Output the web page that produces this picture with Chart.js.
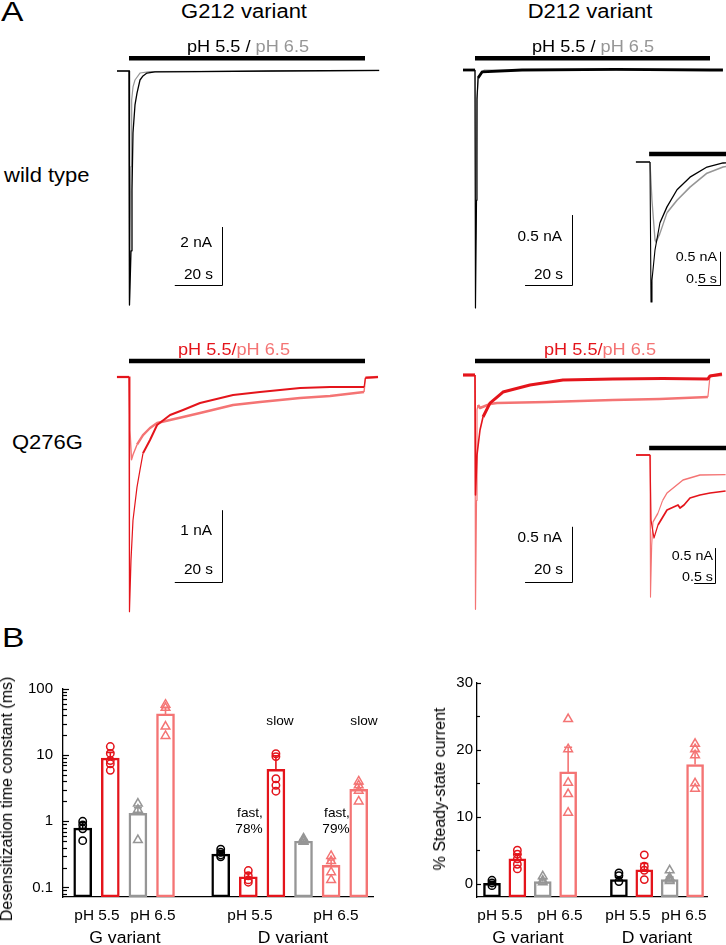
<!DOCTYPE html>
<html>
<head>
<meta charset="utf-8">
<title>Desensitization of G212 / D212 variants</title>
<script src="https://cdn.jsdelivr.net/npm/chart.js@4.4.1/dist/chart.umd.min.js"></script>
<style>
  html, body { margin: 0; background: #fff; }
  #fig { position: relative; width: 726px; height: 945px; overflow: hidden;
         font-family: "Liberation Sans", Arial, sans-serif; color: #000; }
  #fig canvas { position: absolute; }
  .t { position: absolute; white-space: nowrap; line-height: 1; }
</style>
</head>
<body>
<div id="fig"></div>
<script>
// colours
const BLACK = '#000000', GRAY = '#969696', RED = '#e4141b', PINK = '#f47474';

// ---- panel A: current traces, pairs of [time (s), current (nA)] ----
// wild type, G212
const wtG_55 = [[-5.1,0],[0,0],[0.2,-8.07],[0.85,-6.2],[1.27,-4.1],[1.69,-2.14],[2.54,-1.17],[3.39,-0.76],
  [4.66,-0.31],[5.93,-0.17],[7.6,-0.07],[11,-0.03],[30,-0.02],[60,0],[106,0.02]];
const wtG_65 = [[-5.1,0],[0,0],[0.2,-7.9],[0.5,-5.5],[0.85,-3.3],[1.13,-1.0],[1.7,-0.55],[2.54,-0.31],
  [4.66,-0.07],[8.9,-0.02],[106,0.01]];
// wild type, D212
const wtD_55 = [[-5.1,0],[0,0],[0.2,-1.7],[0.64,-0.93],[0.85,-0.21],[1.28,-0.057],
  [3,-0.014],[20,0],[60,0.005],[100,0],[105.5,0]];
const wtD_65 = [[-5.1,0],[0,0],[0.3,-1.21],[0.85,-0.2],[1.5,-0.05],[4,0],[105.5,0]];
// wild type, D212, fast time base (inset)
const wtDi_55 = [[-0.32,0],[0,0],[0.023,-2.12],[0.045,-1.79],[0.114,-1.33],[0.227,-0.92],[0.386,-0.68],
  [0.614,-0.42],[0.909,-0.23],[1.295,-0.076],[1.66,-0.015],[1.8,-0.01]];
const wtDi_65 = [[-0.32,0],[0,0],[0.045,-0.58],[0.114,-1.18],[0.136,-1.21],[0.227,-1.08],[0.386,-0.77],
  [0.614,-0.58],[0.909,-0.38],[1.295,-0.17],[1.66,-0.076],[1.8,-0.06]];
// Q276G, G212
const qG_55 = [[-5.1,0],[0,0],[0.2,-3.26],[0.85,-2.54],[1.69,-1.99],[3.39,-1.53],[4.66,-1.29],[5.93,-1.06],
  [8.9,-0.875],[11.9,-0.667],[17.4,-0.528],[22.9,-0.458],[30.1,-0.361],[44.1,-0.25],[55.5,-0.208],
  [72.5,-0.153],[85.2,-0.139],[99.6,-0.139],[100.2,-0.01],[105.5,0]];
const qG_65 = [[-5.1,0],[0,0],[0.42,-0.74],[1.06,-1.15],[1.69,-1.08],[3.39,-0.94],[5.93,-0.806],
  [8.9,-0.708],[11.9,-0.639],[17.4,-0.597],[22.9,-0.556],[30.1,-0.5],[44.1,-0.389],[55.5,-0.347],
  [72.5,-0.292],[85.2,-0.264],[99.6,-0.208],[100.2,-0.01],[105.5,0]];
// Q276G, D212
const qD_55 = [[-5.1,0],[0,0],[0.21,-1.09],[0.85,-0.727],[2.13,-0.5],[3.4,-0.382],[6.38,-0.255],
  [11.9,-0.155],[23.4,-0.091],[37.4,-0.045],[58.7,-0.036],[80,-0.032],[99.1,-0.036],[100,-0.009],[105.1,0.009]];
const qD_65 = [[-5.1,0],[0,0],[0.21,-2.13],[0.64,-1.14],[0.85,-0.318],[1.28,-0.273],[2.13,-0.3],
  [6.4,-0.264],[9.36,-0.255],[30.6,-0.245],[58.7,-0.227],[78.7,-0.218],[99.1,-0.2],[100,-0.009],[105.1,0]];
// Q276G, D212, fast time base (inset)
const qDi_55 = [[-0.333,0],[0,0],[0.024,-0.93],[0.095,-1.186],[0.19,-1.0],[0.405,-0.786],[0.667,-0.714],
  [0.714,-0.757],[0.81,-0.714],[0.952,-0.614],[1.19,-0.571],[1.43,-0.543],[1.8,-0.514]];
const qDi_65 = [[-0.333,0],[0,0],[0.012,-2.03],[0.04,-1.3],[0.071,-0.957],[0.19,-0.83],[0.3,-0.65],
  [0.405,-0.543],[0.786,-0.357],[1.19,-0.286],[1.8,-0.28]];

// ---- panel B, left: desensitization time constant (ms), log axis ----
const tauPos   = [0, 1, 2, 3, 5, 6, 7, 8, 9, 10];
const tauMean  = [0.79, 9.0, 1.32, 42, 0.32, 0.145, 6.1, 0.5, 0.215, 3.05];
const tauSem   = [0.16, 2.0, 0.28, 10, 0.04, 0.02, 3.7, 0.03, 0.045, 0.55];
const tauPts   = [[1.0, 0.88, 0.77, 0.51], [13.5, 10.6, 8.3, 7.4, 5.9], [1.85, 1.5, 0.52], [58, 52, 27, 19.5],
  [0.38, 0.34, 0.31, 0.29], [0.18, 0.15, 0.13, 0.12], [10.5, 9.5, 4.4, 3.5, 2.85], [0.55, 0.52, 0.5, 0.49],
  [0.3, 0.25, 0.17, 0.13], [4.0, 3.5, 2.9, 2.0]];
const tauColor = [BLACK, RED, GRAY, PINK, BLACK, RED, RED, GRAY, PINK, PINK];
const tauShape = ['circle','circle','triangle','triangle','circle','circle','circle','triangle','triangle','triangle'];
const tauTicks = [0.1, 1, 10, 100];

// ---- panel B, right: % steady-state current ----
const ssPos   = [0, 1, 2, 3, 5, 6, 7, 8];
const ssMean  = [0.05, 3.7, 0.3, 16.7, 0.6, 2.05, 0.6, 17.8];
const ssSem   = [0.3, 0.7, 0.3, 3.7, 0.35, 0.95, 0.4, 2.0];
const ssPts   = [[0.5, 0.1, -0.3], [5.0, 4.4, 3.7, 2.9, 2.2], [1.1, 0.45, 0.2], [24.6, 20.1, 15.1, 13.4, 10.6],
  [1.6, 1.2, 0.3], [4.3, 2.6, 2.0, 0.6], [2.0, 0.9, 0.6, 0.4], [20.9, 20.1, 19.2, 15.0, 14.2]];
const ssColor = [BLACK, RED, GRAY, PINK, BLACK, RED, GRAY, PINK];
const ssShape = ['circle','circle','triangle','triangle','circle','circle','triangle','triangle'];
const ssTicks = [0, 10, 20, 30];

Chart.defaults.font.family = '"Liberation Sans", Arial, sans-serif';
Chart.defaults.color = '#000';
const fig = document.getElementById('fig');

function mkCanvas(b) {
  const cv = document.createElement('canvas');
  cv.width = b.w; cv.height = b.h;
  cv.style.left = b.x + 'px'; cv.style.top = b.y + 'px';
  fig.appendChild(cv);
  return cv;
}

// text helper: parts = string or [[text, colour], ...]; bl = baseline y
function label(parts, x, bl, size, align, sx) {
  align = align || 'left'; sx = sx || 1.1;
  const d = document.createElement('div');
  d.className = 't';
  if (typeof parts === 'string') parts = [[parts, '#000']];
  parts.forEach(([txt, col]) => {
    const s = document.createElement('span');
    s.textContent = txt; s.style.color = col; s.style.whiteSpace = 'pre';
    d.appendChild(s);
  });
  d.style.fontSize = size + 'px';
  d.style.left = x + 'px';
  d.style.top = (bl - 0.8465 * size) + 'px';
  const tx = align === 'center' ? '-50%' : align === 'right' ? '-100%' : '0';
  d.style.transformOrigin = align === 'center' ? '50% 50%' : align === 'right' ? '100% 50%' : '0 50%';
  d.style.transform = 'translateX(' + tx + ') scaleX(' + sx + ')';
  fig.appendChild(d);
}

function vlabel(text, cx, cy, size) {
  const d = document.createElement('div');
  d.className = 't';
  d.textContent = text;
  d.style.fontSize = size + 'px';
  d.style.left = cx + 'px'; d.style.top = cy + 'px';
  d.style.transform = 'translate(-50%,-50%) rotate(-90deg)';
  fig.appendChild(d);
}

// stimulus bar + L-shaped scale bar, placed with the chart's own scales
function decor(o, top) {
  return {
    id: 'decor',
    afterDatasetsDraw(chart) {
      const { ctx, scales: { x, y } } = chart;
      ctx.save();
      ctx.strokeStyle = '#000';
      ctx.lineCap = 'butt';
      ctx.lineWidth = 4.4;
      const sy = o.stimY - top;
      ctx.beginPath();
      ctx.moveTo(x.getPixelForValue(o.stim[0]), sy);
      ctx.lineTo(x.getPixelForValue(o.stim[1]), sy);
      ctx.stroke();
      const b = o.bar;
      const cx = Math.round(x.getPixelForValue(b.t)) + 0.5, cy = Math.round(y.getPixelForValue(b.i)) + 0.5;
      ctx.lineWidth = 1;
      ctx.beginPath();
      ctx.moveTo(x.getPixelForValue(b.t - b.dt), cy);
      ctx.lineTo(cx, cy);
      ctx.lineTo(cx, y.getPixelForValue(b.i + b.di));
      ctx.stroke();
      ctx.restore();
    }
  };
}

// steep parts of a record are drawn thin, the noisy plateaus thicker
function segWidth(thick, thin) {
  return ctx => {
    const dx = Math.abs(ctx.p1.x - ctx.p0.x), dy = Math.abs(ctx.p1.y - ctx.p0.y);
    return dy > 2.5 * dx ? thin : thick;
  };
}

// map: t0 = page x of t=0, sx = px per s, base = page y of 0 nA, sy = px per nA
function traceChart(box, map, sets, deco) {
  const cv = mkCanvas(box);
  const xmin = (box.x - map.t0) / map.sx, xmax = (box.x + box.w - map.t0) / map.sx;
  const ymax = (map.base - box.y) / map.sy, ymin = (map.base - box.y - box.h) / map.sy;
  new Chart(cv, {
    type: 'line',
    data: {
      datasets: sets.map(s => ({
        data: s.data.map(p => ({ x: p[0], y: p[1] })),
        borderColor: s.color, borderWidth: s.w, pointRadius: 0, tension: 0, fill: false,
        borderJoinStyle: 'round', order: s.order || 0,
        segment: { borderWidth: segWidth(s.w, s.thin || s.w) }
      }))
    },
    options: {
      responsive: false, animation: false, events: [],
      layout: { padding: 0 },
      plugins: { legend: { display: false }, tooltip: { enabled: false } },
      scales: {
        x: { type: 'linear', display: false, min: xmin, max: xmax },
        y: { type: 'linear', display: false, min: ymin, max: ymax }
      }
    },
    plugins: [decor(deco, box.y)]
  });
}

function errPlugin(c) {
  return {
    id: 'errs',
    afterDatasetsDraw(chart) {
      const { ctx, scales: { x, y } } = chart;
      ctx.save();
      ctx.lineWidth = 1.6;
      c.pos.forEach((p, i) => {
        const px = x.getPixelForValue(p);
        const y0 = y.getPixelForValue(c.mean[i]), y1 = y.getPixelForValue(c.mean[i] + c.sem[i]);
        ctx.strokeStyle = c.colors[i];
        ctx.beginPath();
        ctx.moveTo(px, y0); ctx.lineTo(px, y1);
        ctx.moveTo(px - 4, y1); ctx.lineTo(px + 4, y1);
        ctx.stroke();
      });
      ctx.restore();
    }
  };
}

function tickPlugin(major, minor) {
  return {
    id: 'inTicks',
    afterDraw(chart) {
      const { ctx, chartArea } = chart, y = chart.scales.y;
      ctx.save();
      ctx.strokeStyle = '#000'; ctx.lineWidth = 1.2;
      y.ticks.forEach(t => {
        const p = Math.round(y.getPixelForValue(t.value)) + 0.5;
        const len = t.label ? major : minor;
        ctx.beginPath(); ctx.moveTo(chartArea.left, p); ctx.lineTo(chartArea.left + len, p); ctx.stroke();
      });
      ctx.restore();
    }
  };
}

function barChart(c) {
  const cv = mkCanvas(c.box);
  const ds = [{
    type: 'bar', data: c.pos.map((p, i) => ({ x: p, y: c.mean[i] })), base: c.base,
    backgroundColor: 'rgba(0,0,0,0)', borderColor: c.colors, borderWidth: 1.8,
    borderSkipped: false, barThickness: c.thick, order: 3
  }];
  c.pts.forEach((vals, i) => ds.push({
    type: 'scatter', data: vals.map(v => ({ x: c.pos[i], y: v })),
    pointStyle: c.shapes[i], pointRadius: c.shapes[i] === 'triangle' ? 5 : 3.7,
    pointBorderColor: c.colors[i], pointBackgroundColor: 'rgba(0,0,0,0)', pointBorderWidth: 1.5,
    showLine: false, order: 1
  }));
  new Chart(cv, {
    type: 'bar',
    data: { datasets: ds },
    options: {
      responsive: false, animation: false, events: [],
      layout: { padding: c.pad },
      plugins: { legend: { display: false }, tooltip: { enabled: false } },
      scales: {
        x: {
          type: 'linear', offset: false, min: c.xr[0], max: c.xr[1],
          afterFit: s => { s.height = c.xh; },
          grid: { display: false, drawTicks: false }, border: { color: '#000', width: 1.3 },
          ticks: { display: false }
        },
        y: c.y
      }
    },
    plugins: [errPlugin(c), tickPlugin(c.tick[0], c.tick[1])]
  });
}

// ---------------- panel A ----------------
traceChart({ x: 110, y: 50, w: 275, h: 262 }, { t0: 129, sx: 2.36, base: 71, sy: 29 },
  [{ data: wtG_65, color: GRAY, w: 1.2, order: 2 }, { data: wtG_55, color: BLACK, w: 1.3, order: 1 }],
  { stim: [0, 100], stimY: 58.3, bar: { t: 39.4, i: -7.38, dt: 20, di: 2 } });

traceChart({ x: 455, y: 50, w: 271, h: 262 }, { t0: 475, sx: 2.35, base: 70, sy: 140 },
  [{ data: wtD_65, color: GRAY, w: 1.2, order: 2 }, { data: wtD_55, color: BLACK, w: 2.8, thin: 1.2, order: 1 }],
  { stim: [0, 100], stimY: 58.3, bar: { t: 41.3, i: -1.536, dt: 20, di: 0.5 } });

traceChart({ x: 630, y: 145, w: 96, h: 165 }, { t0: 650, sx: 44, base: 162, sy: 66 },
  [{ data: wtDi_65, color: GRAY, w: 1.6, thin: 1.3, order: 2 }, { data: wtDi_55, color: BLACK, w: 1.3, thin: 1.1, order: 1 }],
  { stim: [-0.02, 2], stimY: 154, bar: { t: 1.59, i: -1.86, dt: 0.5, di: 0.5 } });

traceChart({ x: 110, y: 350, w: 275, h: 270 }, { t0: 129, sx: 2.36, base: 377, sy: 72 },
  [{ data: qG_65, color: PINK, w: 2.4, thin: 1.4, order: 2 }, { data: qG_55, color: RED, w: 2, thin: 1.2, order: 1 }],
  { stim: [0, 100], stimY: 361, bar: { t: 39.4, i: -2.85, dt: 20, di: 1 } });

traceChart({ x: 455, y: 350, w: 271, h: 270 }, { t0: 475, sx: 2.35, base: 375, sy: 110 },
  [{ data: qD_65, color: PINK, w: 2.6, thin: 1.2, order: 2 }, { data: qD_55, color: RED, w: 3, thin: 1.6, order: 1 }],
  { stim: [0, 100], stimY: 361, bar: { t: 41.3, i: -1.88, dt: 20, di: 0.5 } });

traceChart({ x: 630, y: 440, w: 96, h: 165 }, { t0: 650, sx: 42, base: 455, sy: 70 },
  [{ data: qDi_65, color: PINK, w: 1.4, thin: 1.1, order: 2 }, { data: qDi_55, color: RED, w: 1.7, thin: 1.2, order: 1 }],
  { stim: [-0.02, 2], stimY: 448, bar: { t: 1.55, i: -1.83, dt: 0.5, di: 0.5 } });

label('A', 1, 22, 28, 'left', 1.2);
label('G212 variant', 244, 18, 20, 'center');
label('D212 variant', 590, 18, 20, 'center');
label([['pH 5.5 / ', BLACK], ['pH 6.5', GRAY]], 248, 52, 16.5, 'center');
label([['pH 5.5 / ', BLACK], ['pH 6.5', GRAY]], 593, 52, 16.5, 'center');
label('wild type', 4, 182, 20);
label('Q276G', 12, 449, 20);
label([['pH 5.5/', RED], ['pH 6.5', PINK]], 234, 355, 16.5, 'center');
label([['pH 5.5/', RED], ['pH 6.5', PINK]], 600, 355, 16.5, 'center');

label('2 nA', 212, 247, 14, 'right');
label('20 s', 213, 279, 14, 'right');
label('0.5 nA', 562, 241, 14, 'right');
label('20 s', 563, 279, 14, 'right');
label('0.5 nA', 717, 261, 13, 'right');
label('0.5 s', 717, 283, 13, 'right');
label('1 nA', 212, 535, 14, 'right');
label('20 s', 213, 574, 14, 'right');
label('0.5 nA', 562, 542, 14, 'right');
label('20 s', 563, 574, 14, 'right');
label('0.5 nA', 713, 560, 13, 'right');
label('0.5 s', 713, 581, 13, 'right');

// ---------------- panel B ----------------
const tauTickVals = [];
for (let e = -2; e <= 1; e++) for (let d = 1; d <= 9; d++) {
  const v = +(d * Math.pow(10, e)).toPrecision(6);
  if (v >= 0.0717 && v <= 100) tauTickVals.push(v);
}
tauTickVals.push(100);

barChart({
  box: { x: 0, y: 670, w: 380, h: 275 }, pad: { top: 9, right: 3, left: 0, bottom: 0 }, xh: 48,
  xr: [-0.714, 10.536], thick: 18, base: 0.0717, tick: [6, 4],
  pos: tauPos, mean: tauMean, sem: tauSem, pts: tauPts, colors: tauColor, shapes: tauShape,
  y: {
    type: 'logarithmic', min: 0.0717, max: 100,
    afterBuildTicks: s => { s.ticks = tauTickVals.map(v => ({ value: v })); },
    afterFit: s => { s.width = 63; },
    grid: { display: false, drawTicks: false }, border: { color: '#000', width: 1.3 },
    ticks: {
      autoSkip: false, padding: 10, font: { size: 15 }, color: '#000',
      callback: v => { const m = tauTicks.find(t => Math.abs(v - t) / t < 1e-6); return m === undefined ? '' : String(m); }
    }
  }
});

barChart({
  box: { x: 420, y: 670, w: 306, h: 275 }, pad: { top: 9, right: 19, left: 0, bottom: 0 }, xh: 48,
  xr: [-0.59, 8.47], thick: 17, base: -2, tick: [4, 3],
  pos: ssPos, mean: ssMean, sem: ssSem, pts: ssPts, colors: ssColor, shapes: ssShape,
  y: {
    type: 'linear', min: -2, max: 30,
    afterBuildTicks: s => { s.ticks = [0, 5, 10, 15, 20, 25, 30].map(v => ({ value: v })); },
    afterFit: s => { s.width = 57; },
    grid: { display: false, drawTicks: false }, border: { color: '#000', width: 1.3 },
    ticks: { autoSkip: false, padding: 4, font: { size: 15 }, color: '#000',
      callback: v => ssTicks.includes(v) ? String(v) : '' }
  }
});

label('B', 2, 648, 28, 'left', 1.2);
vlabel('Desensitization time constant (ms)', 6.5, 799, 16);
vlabel('% Steady-state current', 439.5, 789, 16);

label('pH 5.5', 97, 920, 14, 'center');
label('pH 6.5', 153, 920, 14, 'center');
label('pH 5.5', 250, 920, 14, 'center');
label('pH 6.5', 336, 920, 14, 'center');
label('G variant', 125, 944, 16, 'center');
label('D variant', 293, 944, 16, 'center');
label('slow', 280, 725, 13, 'center', 1.05);
label('slow', 364, 725, 13, 'center', 1.05);
label('fast,', 250, 817, 13, 'center', 1.05);
label('78%', 249, 833, 13, 'center', 1.05);
label('fast,', 337, 817, 13, 'center', 1.05);
label('79%', 336, 833, 13, 'center', 1.05);

label('pH 5.5', 500, 920, 14, 'center');
label('pH 6.5', 560, 920, 14, 'center');
label('pH 5.5', 628, 920, 14, 'center');
label('pH 6.5', 684, 920, 14, 'center');
label('G variant', 528, 944, 16, 'center');
label('D variant', 657, 944, 16, 'center');
</script>
</body>
</html>
